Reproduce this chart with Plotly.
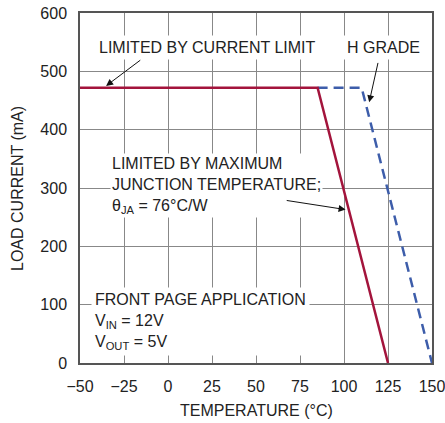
import plotly.graph_objects as go

# Data
solid_temp = [-50, 85, 125]
solid_current = [472, 472, 0]
hgrade_temp = [85, 110, 150]
hgrade_current = [472, 472, 0]
x_ticks = [-50, -25, 0, 25, 50, 75, 100, 125, 150]
y_ticks = [0, 100, 200, 300, 400, 500, 600]

RED = "#A3143C"
BLUE = "#3D5DAA"
TXT = "Liberation Sans, Arial, sans-serif"
FS = 16

fig = go.Figure()
fig.add_trace(go.Scatter(x=hgrade_temp, y=hgrade_current, mode="lines",
                         line=dict(color=BLUE, width=2.5, dash="10px,6px"),
                         hoverinfo="skip"))
fig.add_trace(go.Scatter(x=solid_temp, y=solid_current, mode="lines",
                         line=dict(color=RED, width=2.5),
                         hoverinfo="skip"))

ann = []
def txt(x, y, s, pad=3):
    ann.append(dict(x=x, y=y, xref="x", yref="y", text=s, showarrow=False,
                    xanchor="left", yanchor="middle", align="left",
                    bgcolor="white", borderpad=pad,
                    font=dict(family=TXT, size=FS, color="#222")))

def arrow(x0, y0, x1, y1):
    ann.append(dict(x=x1, y=y1, ax=x0, ay=y0, xref="x", yref="y",
                    axref="x", ayref="y", text="", showarrow=True,
                    arrowhead=2, arrowsize=1.4, arrowwidth=1, arrowcolor="#111"))

txt(-41.5, 541, "LIMITED BY CURRENT LIMIT")
txt(99.6, 541, "H GRADE")
txt(-32.9, 305, "LIMITED BY MAXIMUM<br>JUNCTION TEMPERATURE;<br>θ<sub>JA</sub> = 76°C/W", pad=1)
txt(-43.9, 72, "FRONT PAGE APPLICATION<br>V<sub>IN</sub> = 12V<br>V<sub>OUT</sub> = 5V")

arrow(-14.9, 521, -35.2, 475)
arrow(119.5, 517, 114.3, 447)
arrow(66.6, 279, 100.9, 263)

# axis titles
ann.append(dict(x=0.5, y=-0.135, xref="paper", yref="paper", text="TEMPERATURE (°C)",
                showarrow=False, xanchor="center", yanchor="middle",
                font=dict(family=TXT, size=FS, color="#222")))
ann.append(dict(x=-0.179, y=0.5, xref="paper", yref="paper", text="LOAD CURRENT (mA)",
                showarrow=False, xanchor="center", yanchor="middle", textangle=-90,
                font=dict(family=TXT, size=FS, color="#222")))

fig.update_layout(
    width=445, height=423,
    margin=dict(l=80, r=13, t=13, b=60, autoexpand=False),
    paper_bgcolor="white", plot_bgcolor="white",
    showlegend=False,
    annotations=ann,
)
fig.update_xaxes(range=[-50, 150], tickvals=x_ticks, showgrid=True,
                 gridcolor="#888", gridwidth=1, zeroline=False,
                 showline=True, mirror=True, linecolor="#555", linewidth=1.5,
                 ticks="", ticklabelstandoff=8, automargin=False,
                 ticklabeloverflow="allow",
                 tickfont=dict(family=TXT, size=16, color="#222"))
fig.update_yaxes(range=[0, 600], tickvals=y_ticks, showgrid=True,
                 gridcolor="#888", gridwidth=1, zeroline=False,
                 showline=True, mirror=True, linecolor="#555", linewidth=1.5,
                 ticks="", ticklabelstandoff=8, automargin=False,
                 ticklabeloverflow="allow",
                 tickfont=dict(family=TXT, size=16, color="#222"))

fig.write_html("out.html", config={"displayModeBar": False},
               post_script="document.body.style.margin='0';")
